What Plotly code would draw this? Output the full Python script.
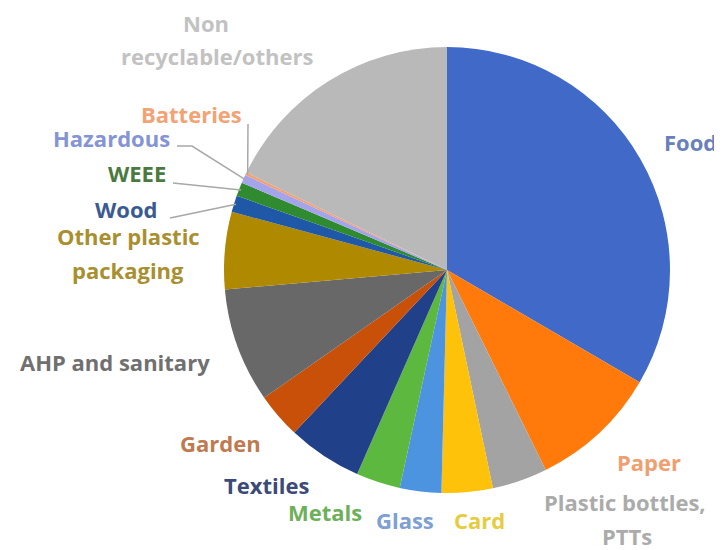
import math
import plotly.graph_objects as go

# ---- data ----
categories = ["Food", "Paper", "Plastic bottles, PTTs", "Card", "Glass", "Metals",
              "Textiles", "Garden", "AHP and sanitary", "Other plastic packaging",
              "Wood", "WEEE", "Hazardous", "Batteries", "Non recyclable/others"]
shares = [33.4, 9.3, 4.0, 3.7, 3.0, 3.2, 5.4, 3.3, 8.3, 5.6, 1.2, 1.0, 0.6, 0.2, 17.8]

# ---- styles ----
slice_colors = ["#4169C8", "#FF7A0A", "#A3A3A3", "#FFC20A", "#4D94E0", "#5DB840",
                "#21408A", "#C85008", "#686868", "#AF8900", "#2058A8", "#2F8A30",
                "#A4A4EC", "#F4A070", "#B9B9B9"]
label_colors = ["#6A80BA", "#F0A070", "#ABABAB", "#E6CC40", "#7EA0D2", "#6EB05A",
                "#3C4A78", "#C07A50", "#707070", "#A89030", "#3A5A92", "#4A7A40",
                "#8494D4", "#F2A374", "#C2C2C2"]

# label lines: (text, category index, center x px, center y px)
label_lines = [
    ("Food", 0, 690, 142),
    ("Paper", 1, 649, 462),
    ("Plastic bottles,", 2, 625, 502),
    ("PTTs", 2, 627, 536),
    ("Card", 3, 479, 520),
    ("Glass", 4, 405, 520),
    ("Metals", 5, 325, 512),
    ("Textiles", 6, 266, 485),
    ("Garden", 7, 220, 443),
    ("AHP and sanitary", 8, 115, 362),
    ("Other plastic", 9, 128, 236),
    ("packaging", 9, 128, 270),
    ("Wood", 10, 126, 209),
    ("WEEE", 11, 137, 173),
    ("Hazardous", 12, 111, 138),
    ("Batteries", 13, 191, 114),
    ("Non", 14, 206, 23),
    ("recyclable/others", 14, 217, 56),
]

# leader lines: category index -> start points (px) before reaching the slice
leaders = {
    10: [(170, 218)],
    11: [(173, 183)],
    12: [(177, 146), (192, 146)],
    13: [(248, 124)],
}

W, H = 722, 550
OFF = 8  # page body margin
CX, CY, R = 447, 270, 223

def px(x, y):
    return (x - OFF) / W, 1 - (y - OFF) / H

fig = go.Figure()
x0, y1 = px(CX - R, CY - R)
x1, y0 = px(CX + R, CY + R)
fig.add_trace(go.Pie(
    labels=categories, values=shares, sort=False, direction="clockwise", rotation=0,
    marker=dict(colors=slice_colors, line=dict(width=0)),
    textinfo="none", hoverinfo="label+percent", showlegend=False,
    domain=dict(x=[x0, x1], y=[y0, y1]),
))

annotations = []
for text, idx, x, y in label_lines:
    ax, ay = px(x, y)
    annotations.append(dict(
        text=text, x=ax, y=ay, xref="paper", yref="paper", showarrow=False,
        xanchor="center", yanchor="middle", borderpad=0,
        font=dict(family="Open Sans", size=22, color=label_colors[idx], weight=700),
    ))

total = sum(shares)
cum = 0.0
mids = []
for v in shares:
    mids.append((cum + v / 2) / total * 360.0)
    cum += v

shapes = []
for idx, pts in leaders.items():
    th = math.radians(mids[idx])
    ex = CX + (R - 2) * math.sin(th)
    ey = CY - (R - 2) * math.cos(th)
    allpts = pts + [(ex, ey)]
    path = "M " + " L ".join(f"{px(a, b)[0]:.5f},{px(a, b)[1]:.5f}" for a, b in allpts)
    shapes.append(dict(type="path", path=path, xref="paper", yref="paper",
                       line=dict(color="#A8A8A8", width=1.5)))

fig.update_layout(
    width=W, height=H, margin=dict(l=0, r=0, t=0, b=0),
    paper_bgcolor="white", plot_bgcolor="white",
    annotations=annotations, shapes=shapes,
)

fig.write_html("out.html")
